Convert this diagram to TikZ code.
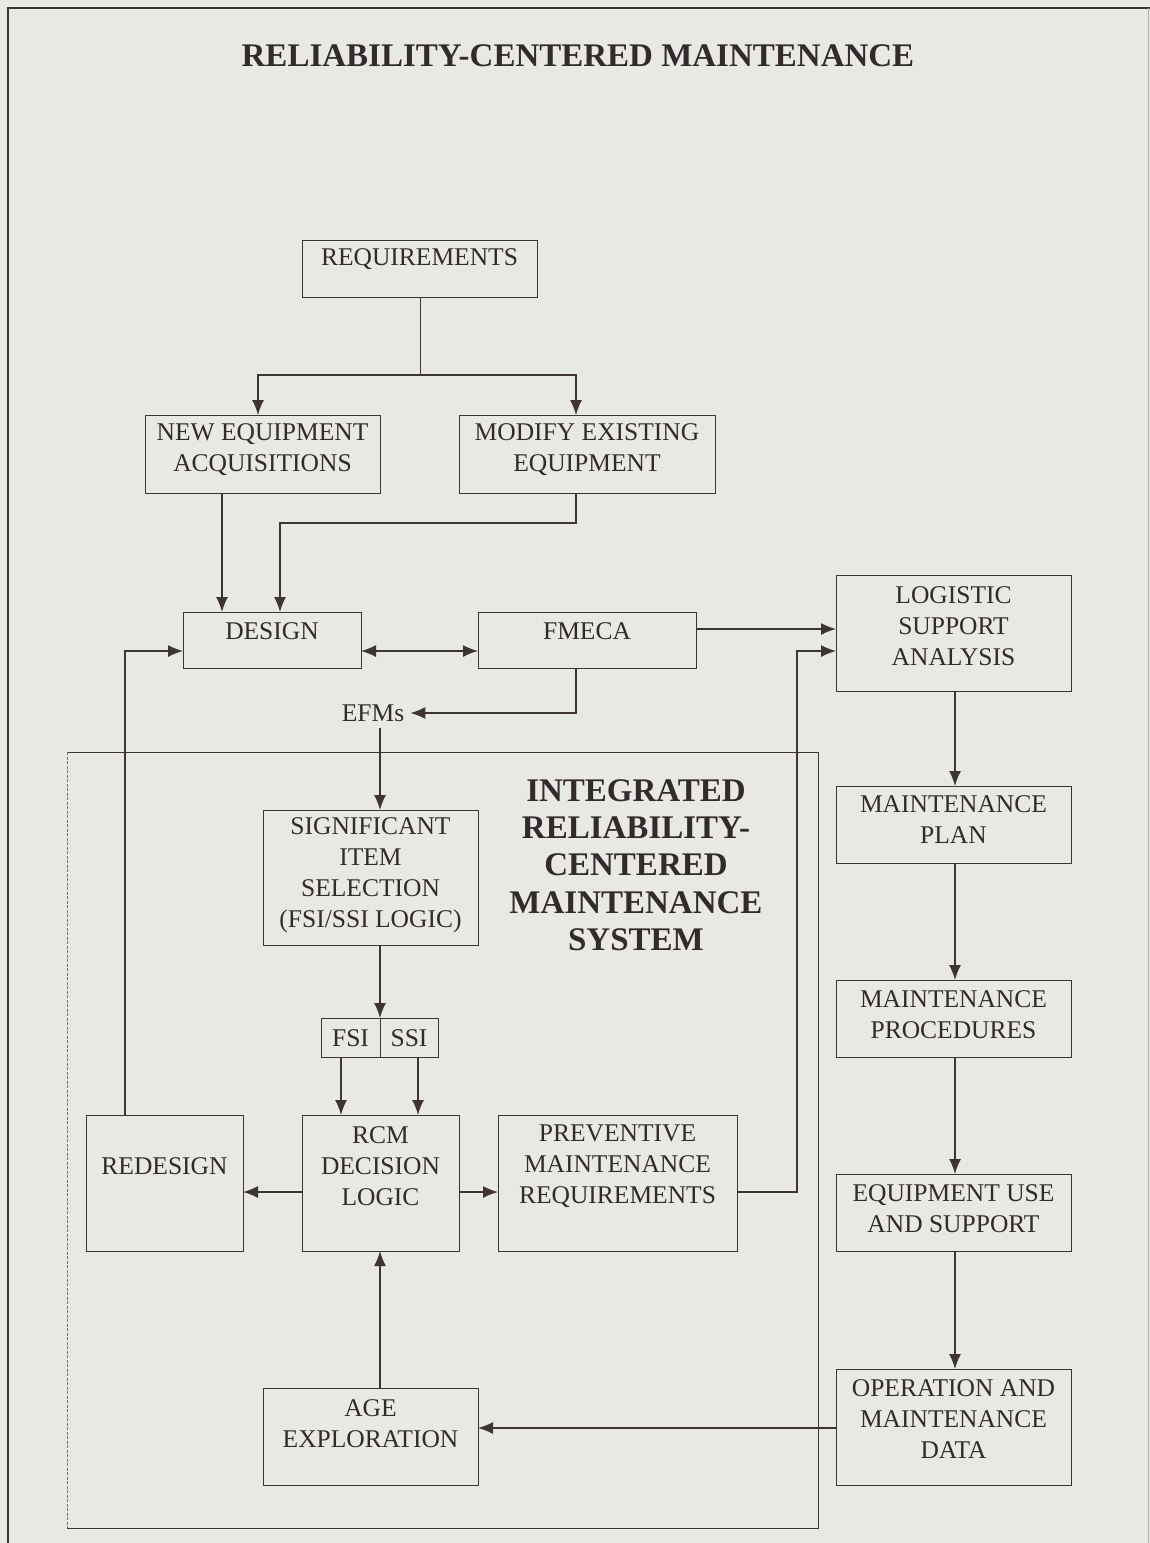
\documentclass[tikz,border=0pt]{standalone}
\usepackage{fontspec}
\setmainfont{Liberation Serif}
\usetikzlibrary{arrows.meta}
\definecolor{paper}{RGB}{233,233,228}
\definecolor{ln}{RGB}{62,52,54}
\definecolor{tx}{RGB}{50,42,44}
\tikzset{
  box/.style={draw=ln, line width=1pt, inner sep=0pt, outer sep=0pt, rectangle},
  txt/.style={text=tx, inner sep=0pt, align=center, font=\fontsize{25.5}{31}\selectfont},
  arr/.style={draw=ln, line width=1.4pt, -{Latex[length=15pt,width=12pt]}},
  darr/.style={draw=ln, line width=1.4pt, {Latex[length=15pt,width=12pt]}-{Latex[length=15pt,width=12pt]}},
  plain/.style={draw=ln, line width=1pt},
  bigtitle/.style={text=tx, inner sep=0pt, align=center, font=\bfseries\fontsize{33}{37.3}\selectfont}
}
\newcommand\bx[7]{%
  \node[box, minimum width={(#4-#2)*1pt}, minimum height={(#5-#3)*1pt}] (#1) at ({(#2+#4)/2},{(#3+#5)/2}) {};
  \node[txt] (#1t) at ({(#2+#4)/2},#6) {#7};}
\begin{document}
\begin{tikzpicture}[x=1pt,y=-1pt]
\useasboundingbox (0,0) rectangle (1150,1543);
\fill[paper] (0,0) rectangle (1150,1543);
% outer frame
\draw[ln, line width=1.3pt] (8,1543) -- (8,8) -- (1150,8);
\draw[ln!40, line width=0.8pt] (1148,8) -- (1148,1543);
% title
\node[bigtitle] (title) at (578,56) {RELIABILITY-CENTERED MAINTENANCE};
% inner frame
\draw[ln, line width=1pt] (67,752) -- (818,752) -- (818,1528) -- (67,1528);
\draw[ln!70, line width=0.8pt, dash pattern=on 3pt off 1.5pt] (67,752) -- (67,1528);
\node[bigtitle] (irc) at (636,865) {INTEGRATED\\RELIABILITY-\\CENTERED\\MAINTENANCE\\SYSTEM};
% boxes
\bx{req}{302}{240}{537}{297}{259}{REQUIREMENTS}
\bx{neq}{145}{415}{380}{493}{450}{NEW EQUIPMENT\\ACQUISITIONS}
\bx{mod}{459}{415}{715}{493}{450}{MODIFY EXISTING\\EQUIPMENT}
\bx{des}{183}{612}{361}{668}{631}{DESIGN}
\bx{fme}{478}{612}{696}{668}{631}{FMECA}
\bx{lsa}{836}{575}{1071}{691}{626}{LOGISTIC\\SUPPORT\\ANALYSIS}
\bx{plan}{836}{786}{1071}{863}{820}{MAINTENANCE\\PLAN}
\bx{proc}{836}{980}{1071}{1057}{1015}{MAINTENANCE\\PROCEDURES}
\bx{use}{836}{1174}{1071}{1251}{1209}{EQUIPMENT USE\\AND SUPPORT}
\bx{ops}{836}{1369}{1071}{1485}{1419}{OPERATION AND\\MAINTENANCE\\DATA}
\bx{sig}{263}{810}{478}{945}{875}{SIGNIFICANT\\ITEM\\SELECTION\\(FSI/SSI LOGIC)}
\bx{fsi}{321}{1018}{380}{1057}{1038}{FSI}
\bx{ssi}{380}{1018}{438}{1057}{1038}{SSI}
\bx{rcm}{302}{1115}{459}{1251}{1166}{RCM\\DECISION\\LOGIC}
\bx{red}{86}{1115}{243}{1251}{1166}{REDESIGN}
\bx{pm}{498}{1115}{737}{1251}{1166}{PREVENTIVE\\MAINTENANCE\\REQUIREMENTS}
\bx{age}{263}{1388}{478}{1485}{1424}{AGE\\EXPLORATION}
\node[txt, inner sep=6pt] (efm) at (373,713) {EFMs};
% connectors
\coordinate (split) at (420,375);
\draw[plain] (req.south -| 420,0) -- (split);
\draw[arr] (split) -| (neq.north -| 258,0);
\draw[arr] (split) -| (mod.north -| 576,0);
\draw[arr] (neq.south -| 222,0) -- (des.north -| 222,0);
\draw[arr] (mod.south -| 576,0) -- (576,523) -- (280,523) -- (des.north -| 280,0);
\draw[darr] (des.east |- 0,651) -- (fme.west |- 0,651);
\draw[arr] (fme.east |- 0,629) -- (lsa.west |- 0,629);
\draw[arr] (fme.south -| 576,0) |- (efm.east);
\draw[arr] (efm.south -| 380,0) -- (sig.north -| 380,0);
\draw[arr] (sig.south -| 380,0) -- (fsi.north east);
\draw[arr] (fsi.south -| 341,0) -- (rcm.north -| 341,0);
\draw[arr] (ssi.south -| 418,0) -- (rcm.north -| 418,0);
\draw[arr] (rcm.west |- 0,1192) -- (red.east |- 0,1192);
\draw[arr] (rcm.east |- 0,1192) -- (pm.west |- 0,1192);
\draw[arr] (red.north -| 125,0) |- (des.west |- 0,651);
\draw[arr] (pm.east |- 0,1192) -| (797,651) -- (lsa.west |- 0,651);
\draw[arr] (lsa.south -| 955,0) -- (plan.north -| 955,0);
\draw[arr] (plan.south -| 955,0) -- (proc.north -| 955,0);
\draw[arr] (proc.south -| 955,0) -- (use.north -| 955,0);
\draw[arr] (use.south -| 955,0) -- (ops.north -| 955,0);
\draw[arr] (ops.west |- 0,1428) -- (age.east |- 0,1428);
\draw[arr] (age.north -| 380,0) -- (rcm.south -| 380,0);
\end{tikzpicture}
\end{document}
